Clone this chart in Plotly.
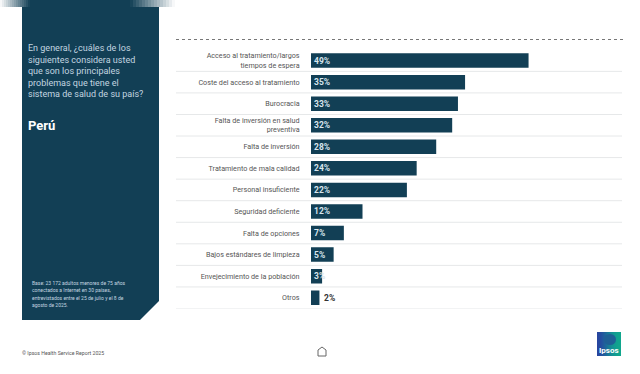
import plotly.graph_objects as go

W, H = 640, 374
categories = ["Acceso al tratamiento/largos<br>tiempos de espera", "Coste del acceso al tratamiento", "Burocracia",
              "Falta de inversión en salud<br>preventiva", "Falta de inversión", "Tratamiento de mala calidad",
              "Personal insuficiente", "Seguridad deficiente", "Falta de opciones",
              "Bajos estándares de limpieza", "Envejecimiento de la población", "Otros"]
values = [49, 34.7, 33.1, 31.8, 28.2, 23.8, 21.6, 11.6, 7.4, 5.1, 2.5, 1.9]
labels = ["49%", "35%", "33%", "32%", "28%", "24%", "22%", "12%", "7%", "5%", "3%", "2%"]
question = ["En general, ¿cuáles de los", "siguientes considera usted", "que son los principales",
            "problemas que tiene el", "sistema de salud de su país?"]
country = "Perú"
base_note = ["Base: 23 172 adultos menores de 75 años", "conectados a Internet en 30 países,",
             "entrevistados entre el 25 de julio y el 8 de", "agosto de 2025."]
copyright_note = "© Ipsos Health Service Report 2025"

NAVY = "#123f55"
FONT = "Roboto"
px = lambda v: v / W
py = lambda v: 1 - v / H

fig = go.Figure(go.Bar(
    x=values, y=list(range(len(values))), orientation="h", width=14.5 / 21.55,
    marker=dict(color=NAVY, line=dict(width=0)),
    text=labels[:-1] + [""], textposition="inside", insidetextanchor="start",
    textangle=0, constraintext="none", cliponaxis=False,
    textfont=dict(family=FONT, size=8.5, color="#d8e6ee", weight=700),
    hoverinfo="skip"))
fig.add_annotation(x=values[-1], y=len(values) - 1, xref="x", yref="y", text=f"<b>{labels[-1]}</b>",
                   showarrow=False, xanchor="left", xshift=3,
                   font=dict(family=FONT, size=8.5, color="#333333"))

def rect(x0, y0, x1, y1, color, opacity=1, layer="below"):
    return dict(type="rect", xref="paper", yref="paper", x0=px(x0), x1=px(x1), y0=py(y0), y1=py(y1),
                fillcolor=color, opacity=opacity, line=dict(width=0), layer=layer)

shapes = []
# top strip with faded ends
shapes.append(rect(30, 0, 130, 7, NAVY))
for k in range(15):
    shapes.append(rect(2 * k, 0, 2 * k + 2, 7, NAVY, (k + .5) / 15))
for k in range(15):
    shapes.append(rect(130 + 3 * k, 0, 133 + 3 * k, 7, NAVY, 1 - (k + .5) / 15))
# row separators
for i in range(len(values)):
    shapes.append(dict(type="line", xref="paper", yref="y", x0=px(176), x1=px(622), y0=i + .5, y1=i + .5,
                       line=dict(color="#e6e8e9", width=1)))
# dotted top rule
shapes.append(dict(type="line", xref="paper", yref="paper", x0=px(176), x1=px(626), y0=py(39.5), y1=py(39.5),
                   line=dict(color="#777777", width=1, dash="dot")))
# side panel with cut corner
path = f"M {px(22)} {py(7)} L {px(159)} {py(7)} L {px(159)} {py(301)} L {px(140)} {py(320)} L {px(22)} {py(320)} Z"
shapes.append(dict(type="path", xref="paper", yref="paper", path=path, fillcolor=NAVY, line=dict(width=0), layer="below"))
# logo: blue-to-teal strips
logo_cols = ["#27459f", "#27479f", "#26499f", "#254c9e", "#24509e", "#23559d", "#225a9c", "#20609b", "#1e669a",
             "#1c6d99", "#1a7498", "#187a97", "#168196", "#158795", "#148d94", "#139293", "#129692", "#129a91",
             "#119d90", "#11a08f", "#10a28e", "#10a48e", "#10a58d", "#10a68d"]
for k, c in enumerate(logo_cols):
    shapes.append(rect(597 + k, 332, 598 + k, 356, c))
shapes.append(dict(type="circle", xref="paper", yref="paper", x0=px(604), x1=px(616), y0=py(345), y1=py(334),
                   fillcolor="#1f5f95", line=dict(width=0), layer="below"))
# home icon
home = f"M {px(318)} {py(356)} L {px(318)} {py(350)} L {px(322)} {py(347)} L {px(326)} {py(350)} L {px(326)} {py(356)} Z"
shapes.append(dict(type="path", xref="paper", yref="paper", path=home, line=dict(color="#666666", width=1)))

def note(x, y, text, size, color):
    fig.add_annotation(xref="paper", yref="paper", x=px(x), y=py(y), text=text, showarrow=False,
                       xanchor="left", yanchor="middle", align="left",
                       font=dict(family=FONT, size=size, color=color))

for i, line in enumerate(question):
    note(26, 48.5 + 11.45 * i, line, 9, "#c3d6e0")
note(26, 125, f"<b>{country}</b>", 13, "#ffffff")
for i, line in enumerate(base_note):
    note(30, 282.5 + 7.6 * i, line, 5, "#c3d6e0")
note(20, 352.5, copyright_note, 5.2, "#555555")
fig.add_annotation(xref="paper", yref="paper", x=px(608.5), y=py(350.5), text="<b>Ipsos</b>", showarrow=False,
                   xanchor="center", yanchor="middle", font=dict(family=FONT, size=8, color="#ffffff"))

fig.update_layout(
    width=W, height=H, margin=dict(l=0, r=0, t=0, b=0), paper_bgcolor="white", plot_bgcolor="rgba(0,0,0,0)",
    showlegend=False, shapes=shapes, autosize=False,
    xaxis=dict(domain=[px(311), 1], range=[0, 329 / 4.44], visible=False, fixedrange=True),
    yaxis=dict(domain=[py(308.5), py(49.8)], range=[11.5, -0.5], tickmode="array",
               tickvals=list(range(len(categories))), ticktext=categories, ticks="outside", ticklen=9,
               tickcolor="rgba(0,0,0,0)", showgrid=False, zeroline=False, showline=False,
               tickfont=dict(family=FONT, size=7.2, color="#555555"), fixedrange=True),
)
fig.write_html("out.html", config=dict(displayModeBar=False),
               post_script="document.body.style.margin='0';document.documentElement.style.overflow='hidden';")
